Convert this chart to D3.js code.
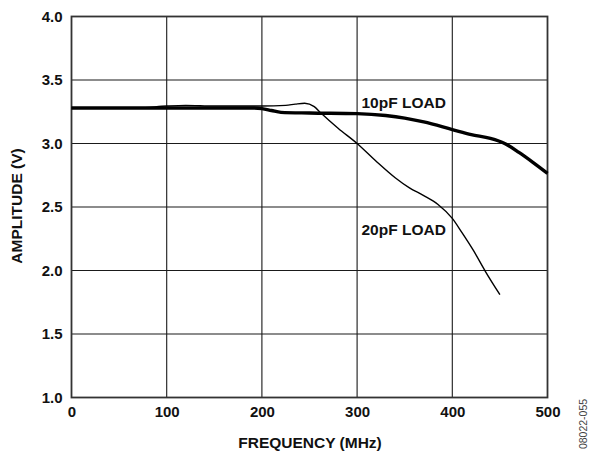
<!DOCTYPE html>
<html>
<head>
<meta charset="utf-8">
<script src="https://cdn.jsdelivr.net/npm/d3@7"></script>
<style>
	body { margin: 0; background: #fff; }
	svg { display: block; font-family: "Liberation Sans", Arial, sans-serif; }
	.tick text, .lbl { font-weight: bold; fill: #111; }
</style>
</head>
<body>
<script>
//curve data
var freq10 = [0, 50, 100, 150, 190, 200, 210, 220, 250, 300, 330, 350, 370, 400, 420, 440, 455, 470, 485, 500];
var amp10 = [3.28, 3.28, 3.28, 3.28, 3.28, 3.275, 3.26, 3.245, 3.24, 3.235, 3.22, 3.20, 3.17, 3.11, 3.07, 3.04, 3.00, 2.93, 2.85, 2.765];

var freq20 = [0, 70, 100, 120, 150, 200, 225, 235, 245, 255, 262, 280, 300, 320, 340, 355, 370, 385, 400, 410, 422, 435, 450];
var amp20 = [3.28, 3.28, 3.295, 3.30, 3.295, 3.295, 3.30, 3.31, 3.317, 3.29, 3.24, 3.12, 3.00, 2.86, 2.73, 2.65, 2.59, 2.52, 2.41, 2.30, 2.16, 1.99, 1.81];

var xTicks = [0, 100, 200, 300, 400, 500];
var yTicks = [1.0, 1.5, 2.0, 2.5, 3.0, 3.5, 4.0];

(function () {
	var width = 589, height = 452;
	var left = 71.5, right = 547.5, top = 16.5, bottom = 397.5;
	var fs = "15.5px";

	var svg = d3.select("body").append("svg")
		.attr("width", width)
		.attr("height", height);

	var x = d3.scaleLinear().domain([0, 500]).range([left, right]);
	var y = d3.scaleLinear().domain([1, 4]).range([bottom, top]);

	//grid lines
	svg.append("g").selectAll("line.vg")
		.data(xTicks.slice(1, -1))
		.enter().append("line")
		.attr("x1", function (d) { return x(d); })
		.attr("x2", function (d) { return x(d); })
		.attr("y1", top).attr("y2", bottom)
		.attr("stroke", "#1a1a1a").attr("stroke-width", 1.1);

	svg.append("g").selectAll("line.hg")
		.data(yTicks.slice(1, -1))
		.enter().append("line")
		.attr("y1", function (d) { return y(d); })
		.attr("y2", function (d) { return y(d); })
		.attr("x1", left).attr("x2", right)
		.attr("stroke", "#1a1a1a").attr("stroke-width", 1.1);

	//axes, only used for labels
	var xAxis = svg.append("g")
		.attr("transform", "translate(0," + bottom + ")")
		.call(d3.axisBottom(x).tickValues(xTicks).tickSize(0).tickPadding(9).tickFormat(d3.format("d")));
	var yAxis = svg.append("g")
		.attr("transform", "translate(" + left + ",0)")
		.call(d3.axisLeft(y).tickValues(yTicks).tickSize(0).tickPadding(9).tickFormat(d3.format(".1f")));
	[xAxis, yAxis].forEach(function (a) {
		a.select(".domain").remove();
		a.selectAll("text").style("font-size", "15px");
	});

	//frame
	svg.append("rect")
		.attr("x", left).attr("y", top)
		.attr("width", right - left).attr("height", bottom - top)
		.attr("fill", "none").attr("stroke", "#333").attr("stroke-width", 1.8);

	var line = d3.line()
		.x(function (d) { return x(d[0]); })
		.y(function (d) { return y(d[1]); })
		.curve(d3.curveMonotoneX);

	svg.append("path")
		.datum(d3.zip(freq20, amp20))
		.attr("d", line)
		.attr("fill", "none").attr("stroke", "#000").attr("stroke-width", 1.4);

	svg.append("path")
		.datum(d3.zip(freq10, amp10))
		.attr("d", line)
		.attr("fill", "none").attr("stroke", "#000").attr("stroke-width", 3.4);

	//curve labels
	svg.append("text").attr("class", "lbl")
		.attr("x", 361.5).attr("y", 108)
		.style("font-size", fs)
		.text("10pF LOAD");
	svg.append("text").attr("class", "lbl")
		.attr("x", 361.5).attr("y", 235)
		.style("font-size", fs)
		.text("20pF LOAD");

	//axis titles
	svg.append("text").attr("class", "lbl")
		.attr("x", 310).attr("y", 447.5)
		.attr("text-anchor", "middle")
		.style("font-size", fs)
		.text("FREQUENCY (MHz)");
	svg.append("text").attr("class", "lbl")
		.attr("transform", "translate(22,206) rotate(-90)")
		.attr("text-anchor", "middle")
		.style("font-size", fs)
		.text("AMPLITUDE (V)");

	svg.append("text")
		.attr("transform", "translate(587,424) rotate(-90)")
		.attr("text-anchor", "middle")
		.style("font-size", "10.5px")
		.style("fill", "#444")
		.text("08022-055");
})();
</script>
</body>
</html>
